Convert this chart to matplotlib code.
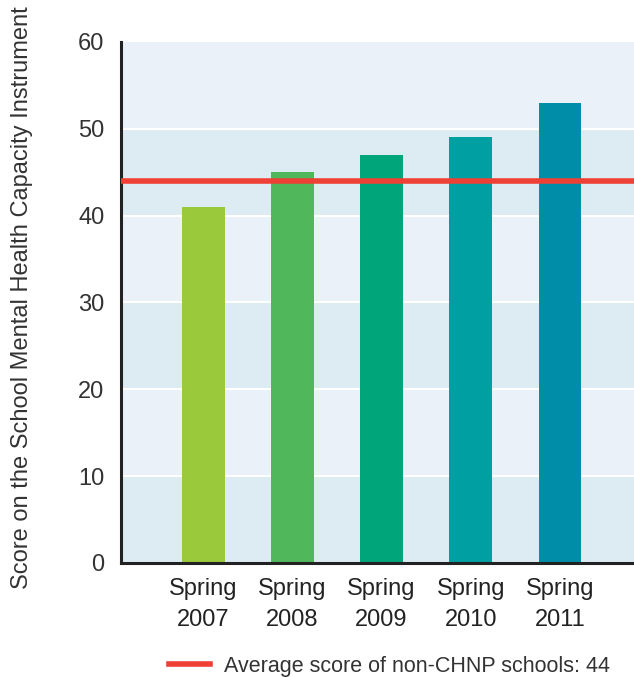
import matplotlib
matplotlib.use("Agg")
import matplotlib.pyplot as plt
from matplotlib.lines import Line2D

categories = ["Spring\n2007", "Spring\n2008", "Spring\n2009", "Spring\n2010", "Spring\n2011"]
scores = [41, 45, 47, 49, 53]
bar_colors = ["#9BC93C", "#50B85A", "#00A67A", "#009FA2", "#008DA8"]
average_non_chnp = 44
yticks = [0, 10, 20, 30, 40, 50, 60]

plt.rcParams['font.family'] = ['Liberation Sans', 'DejaVu Sans']
fig = plt.figure(figsize=(6.34, 6.77), dpi=100)
ax = fig.add_axes([0.1909, 0.1684, 0.8091, 0.7696])

light = "#EAF1F8"
dark = "#DDEBF2"
for i in range(6):
    ax.axhspan(i * 10, (i + 1) * 10, color=dark if i % 2 == 0 else light, lw=0, zorder=0)
for y in yticks[1:-1]:
    ax.axhline(y, color="white", lw=1.5, zorder=1)

x = list(range(len(categories)))
ax.bar(x, scores, width=0.48, color=bar_colors, zorder=2)
ax.axhline(average_non_chnp, color="#EE4035", lw=4, zorder=3)

ax.set_xlim(-0.92, 4.83)
ax.set_ylim(0, 60)
ax.set_yticks(yticks)
ax.set_xticks(x)
ax.set_xticklabels(categories, fontsize=17, color="#222222", linespacing=1.5)
ax.tick_params(axis='y', labelsize=17, length=0, pad=12)
ax.tick_params(axis='x', length=0, pad=11)
for lab in ax.get_yticklabels():
    lab.set_color("#333333")

for s in ["top", "right"]:
    ax.spines[s].set_visible(False)
for s in ["left", "bottom"]:
    ax.spines[s].set_color("#222222")
    ax.spines[s].set_linewidth(2.2)

fig.text(0.035, 0.56, "Score on the School Mental Health Capacity Instrument",
         rotation=90, ha="center", va="center", fontsize=17, color="#333333")

fig.legend(handles=[Line2D([0], [0], color="#EE4035", lw=4)],
           labels=["Average score of non-CHNP schools: 44"],
           loc="center", bbox_to_anchor=(0.614, 0.016), frameon=False,
           fontsize=15.5, handlelength=1.9, handletextpad=0.65, labelcolor="#333333")

fig.savefig("out.png", dpi=100)
